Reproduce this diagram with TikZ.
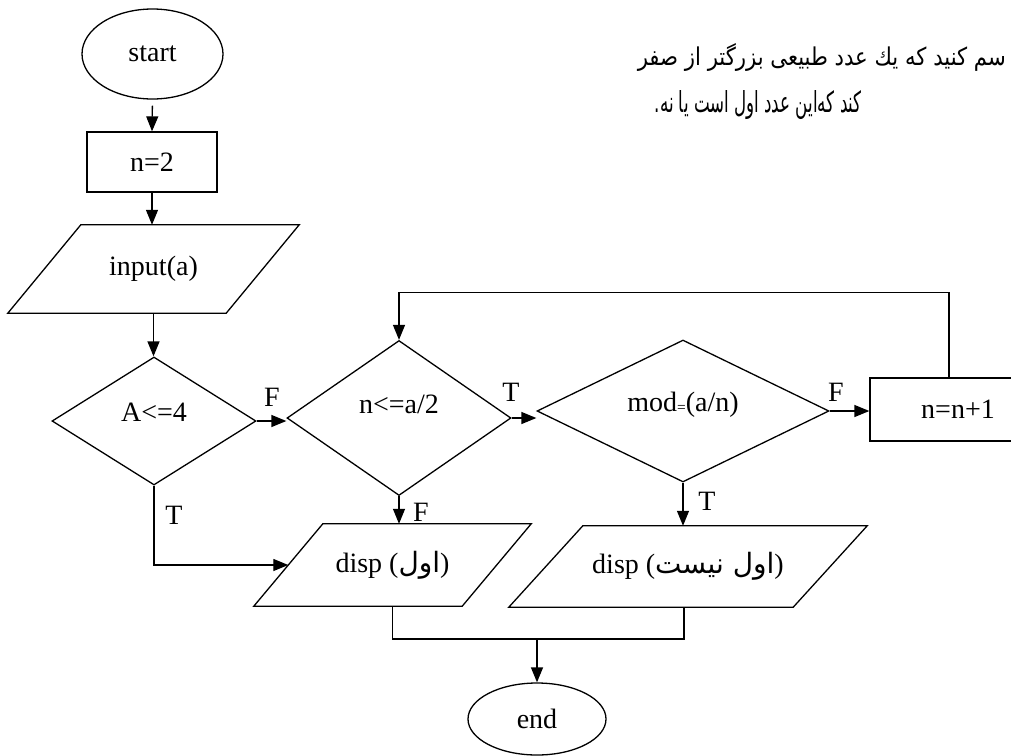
\documentclass[tikz,border=0pt]{standalone}
\usepackage{fontspec}
\usepackage{graphicx}
\setmainfont{Liberation Serif}
\newfontfamily\fa[Script=Arabic]{DejaVu Sans}
\usetikzlibrary{shapes.geometric,arrows.meta,calc}
\TeXXeTstate=1
\begin{document}
\begin{tikzpicture}[x=1pt,y=-1pt,
  every node/.style={font=\fontsize{28}{33}\selectfont},
  wire/.style={line width=1.3pt},
  arr/.style={wire,-{Triangle[length=15pt,width=12pt]}},
  term/.style={ellipse,draw,wire,inner sep=0},
  proc/.style={rectangle,draw,wire,inner sep=0},
  choice/.style={diamond,draw,wire,inner sep=0},
  iobox/.style={rectangle,inner sep=0},
  lbl/.style={inner sep=0}]
\useasboundingbox (0,0) rectangle (1011,755);
\clip (0,0) rectangle (1011,755);

% problem statement (right-to-left)
\node[anchor=base east,inner sep=0] (q1) at (1006,65)
  {\resizebox{368pt}{22pt}{\fa\beginR سم کنید که یك عدد طبیعی بزرگتر از صفر\endR}};
\node[anchor=base east,inner sep=0] (q2) at (862,112)
  {\resizebox{207pt}{22pt}{\fa\beginR کند که‌این عدد اول است یا نه.\endR}};

% flowchart blocks
\node[term,minimum width=141,minimum height=90] (start) at (152.5,54) {start};
\node[proc,minimum width=130,minimum height=60] (n2) at (152,162) {n=2};
\node[iobox,minimum width=291,minimum height=88] (inp) at (153.5,269) {input(a)};
\draw[wire] (inp.south west) -- ([xshift=-73pt]inp.south east)
  -- (inp.north east) -- ([xshift=73pt]inp.north west) -- cycle;
\node[choice,minimum width=204,minimum height=128] (A) at (154,421)
  {\raisebox{0pt}[0pt][0pt]{A<=4}};
\node[choice,minimum width=224,minimum height=155] (n) at (399,418)
  {\raisebox{5pt}[0pt][0pt]{n<=a/2}};
\node[choice,minimum width=292,minimum height=142] (mod) at (683,411)
  {\raisebox{0pt}[0pt][0pt]{mod\raisebox{-1pt}{\scalebox{0.55}{=}}(a/n)}};
\node[proc,minimum width=176,minimum height=63] (inc) at (958,409.5) {n=n+1};
\node[iobox,minimum width=277,minimum height=82] (d1) at (392.5,565)
  {disp ({\fa اول})};
\draw[wire] (d1.south west) -- ([xshift=-69pt]d1.south east)
  -- (d1.north east) -- ([xshift=69pt]d1.north west) -- cycle;
\node[iobox,minimum width=358,minimum height=81] (d2) at (688,566.5)
  {disp ({\fa\beginR اول نیست\endR})};
\draw[wire] (d2.south west) -- ([xshift=-74pt]d2.south east)
  -- (d2.north east) -- ([xshift=74pt]d2.north west) -- cycle;
\node[term,minimum width=138,minimum height=72] (stop) at (537,719) {end};

% connectors
\coordinate (d1L) at ($(d1.south west)!0.5!([xshift=69pt]d1.north west)$);
\draw[arr,shorten <=6pt] (start.south) -- (n2.north);
\draw[arr] (n2.south) -- (n2.south |- inp.north);
\draw[arr] (inp.south) -- (inp.south |- A.north);
\draw[arr] (A.east) -- (A.east -| n.west);
\draw[arr] (n.east) -- (n.east -| mod.west);
\draw[arr] (mod.east) -- (mod.east -| inc.west);
\draw[arr] ([xshift=-9pt]inc.north) -- ++(0,-85) -| (n.north);
\draw[arr] (A.south) |- (d1L);
\draw[arr] (n.south) -- (n.south |- d1.north);
\draw[arr] (mod.south) -- (mod.south |- d2.north);
\coordinate (jn) at (537,639);
\draw[wire] (d1.south) |- (jn) -| ([xshift=-4pt]d2.south);
\draw[arr] (jn) -- (stop.north);

% branch labels
\node[lbl] (lF1) at (272,397) {F};
\node[lbl] (lT1) at (511,392) {T};
\node[lbl] (lF2) at (836,392) {F};
\node[lbl] (lF3) at (421,512) {F};
\node[lbl] (lT2) at (707,501) {T};
\node[lbl] (lT3) at (174,515) {T};
\end{tikzpicture}
\end{document}
